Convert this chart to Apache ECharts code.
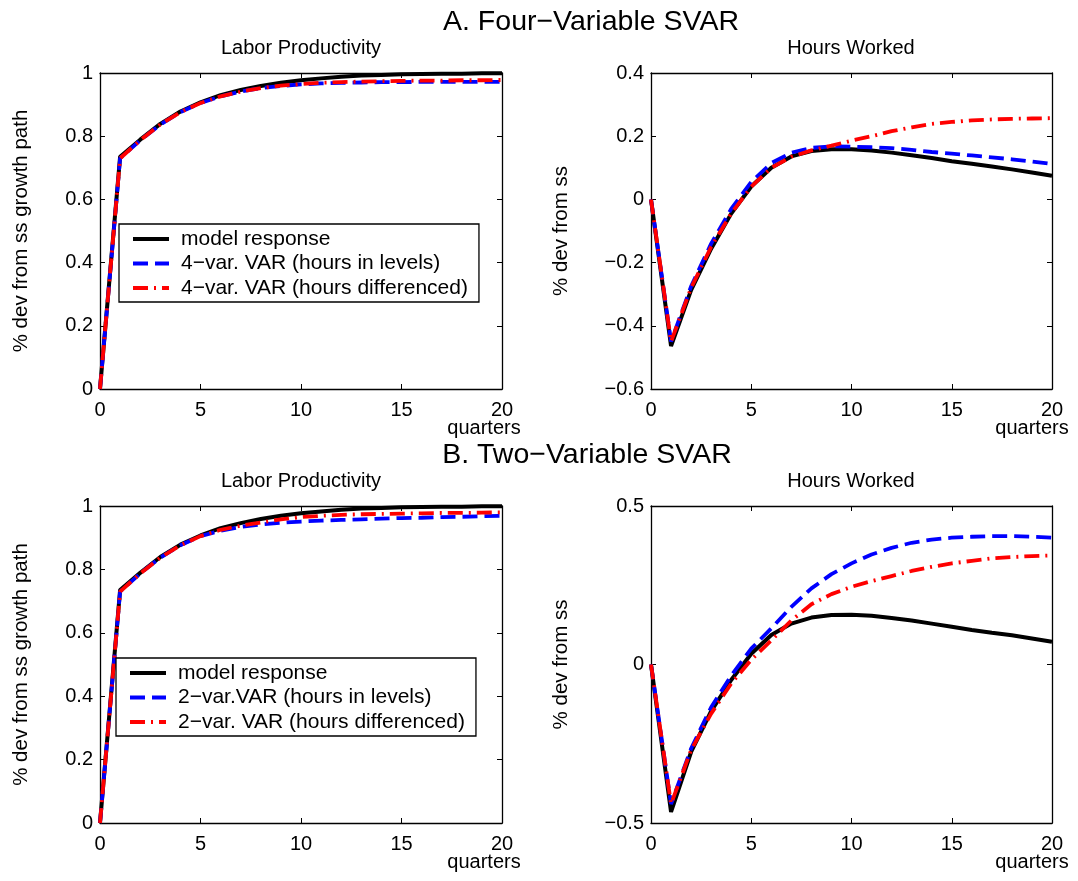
<!DOCTYPE html>
<html>
<head>
<meta charset="utf-8">
<script src="https://cdn.jsdelivr.net/npm/echarts@6/dist/echarts.min.js"></script>
<style>
html,body{margin:0;padding:0;background:#fff;}
#chart{width:1078px;height:881px;}
</style>
</head>
<body>
<div id="chart"></div>
<script>
// ---- Data ----
const quarters = [0,1,2,3,4,5,6,7,8,9,10,11,12,13,14,15,16,17,18,19,20];

const panelTitles = ['Labor Productivity','Hours Worked','Labor Productivity','Hours Worked'];
const sectionTitles = ['A. Four\u2212Variable SVAR','B. Two\u2212Variable SVAR'];
const yAxisNames = ['% dev from ss growth path','% dev from ss','% dev from ss growth path','% dev from ss'];
const xAxisName = 'quarters';
const namesA = ['model response','4\u2212var. VAR (hours in levels)','4\u2212var. VAR (hours differenced)'];
const namesB = ['model response ','2\u2212var.VAR (hours in levels)','2\u2212var. VAR (hours differenced)'];

// Panel A, Labor Productivity
const aLpModel = [0,0.735,0.789,0.839,0.878,0.907,0.930,0.946,0.959,0.969,0.977,0.983,0.988,0.992,0.994,0.996,0.997,0.998,0.998,0.999,0.999];
const aLpLevels = [0,0.730,0.787,0.837,0.876,0.905,0.926,0.941,0.952,0.959,0.964,0.967,0.969,0.970,0.971,0.971,0.972,0.972,0.972,0.972,0.972];
const aLpDiff = [0,0.730,0.787,0.837,0.876,0.905,0.926,0.941,0.952,0.960,0.965,0.969,0.971,0.973,0.974,0.975,0.976,0.976,0.977,0.977,0.978];

// Panel A, Hours Worked
const aHwModel = [0,-0.464,-0.287,-0.156,-0.045,0.041,0.100,0.136,0.153,0.159,0.159,0.155,0.148,0.140,0.131,0.121,0.113,0.104,0.095,0.085,0.075];
const aHwLevels = [0,-0.450,-0.275,-0.140,-0.030,0.055,0.115,0.148,0.163,0.168,0.167,0.165,0.162,0.157,0.150,0.145,0.139,0.133,0.127,0.120,0.112];
const aHwDiff = [0,-0.450,-0.280,-0.150,-0.045,0.040,0.100,0.135,0.155,0.170,0.186,0.200,0.216,0.228,0.239,0.245,0.250,0.253,0.255,0.256,0.257];

// Panel B, Labor Productivity
const bLpModel = [0,0.735,0.789,0.839,0.878,0.907,0.930,0.946,0.959,0.969,0.977,0.983,0.988,0.992,0.994,0.996,0.997,0.998,0.998,0.999,0.999];
const bLpLevels = [0,0.730,0.787,0.837,0.876,0.905,0.922,0.934,0.942,0.947,0.951,0.954,0.956,0.958,0.960,0.962,0.963,0.965,0.966,0.968,0.969];
const bLpDiff = [0,0.730,0.787,0.837,0.876,0.905,0.925,0.938,0.948,0.958,0.965,0.969,0.972,0.974,0.975,0.976,0.977,0.978,0.978,0.979,0.980];

// Panel B, Hours Worked
const bHwModel = [0,-0.465,-0.276,-0.147,-0.049,0.034,0.093,0.129,0.148,0.156,0.157,0.154,0.147,0.139,0.129,0.119,0.109,0.100,0.092,0.082,0.072];
const bHwLevels = [0,-0.440,-0.265,-0.135,-0.035,0.050,0.114,0.182,0.240,0.285,0.319,0.347,0.368,0.384,0.394,0.400,0.403,0.405,0.405,0.403,0.400];
const bHwDiff = [0,-0.440,-0.270,-0.155,-0.060,0.015,0.076,0.139,0.190,0.222,0.245,0.263,0.279,0.295,0.308,0.319,0.327,0.335,0.339,0.342,0.344];

const yMins = [0,-0.6,0,-0.5];
const yMaxs = [1,0.4,1,0.5];
const yIntervals = [0.2,0.2,0.2,0.5];
const xMin = 0, xMax = 20, xInterval = 5;

// ---- Build chart ----
const FONT = '"Liberation Sans", Arial, Helvetica, sans-serif';
const panels = [
  [aLpModel,aLpLevels,aLpDiff],
  [aHwModel,aHwLevels,aHwDiff],
  [bLpModel,bLpLevels,bLpDiff],
  [bHwModel,bHwLevels,bHwDiff]
];
const panelNames = [namesA,namesA,namesB,namesB];

const grids = [
  {left:100, top:73, width:402, height:316},
  {left:651, top:73, width:401, height:316},
  {left:100, top:506, width:402, height:317},
  {left:651, top:506, width:401, height:317}
];
const nameGaps = [68,79,68,79];

const fmt = v => {
  let s = (Math.round(v*10)/10).toString();
  return s.replace('-', '\u2212');
};

const xAxes = [], yAxes = [], series = [];
const lineStyles = [
  {color:'#000000', width:4, type:'solid'},
  {color:'#0000ff', width:3.8, type:[15,7]},
  {color:'#ff0000', width:3.8, type:[15,6,2,6]}
];

grids.forEach((g,i) => {
  const common = {
    gridIndex:i, type:'value', min:xMin, max:xMax, interval:xInterval,
    axisLine:{show:true, onZero:false, lineStyle:{color:'#000', width:1.3}},
    axisTick:{show:true, inside:true, length:5, lineStyle:{color:'#000', width:1}},
    splitLine:{show:false}
  };
  xAxes.push(Object.assign({}, common, {
    position:'bottom',
    axisLabel:{show:true, color:'#000', fontSize:20, fontFamily:FONT, margin:11, formatter:fmt}
  }));
  xAxes.push(Object.assign({}, common, {position:'top', axisLabel:{show:false}}));
  const ycommon = {
    gridIndex:i, type:'value', min:yMins[i], max:yMaxs[i], interval:yIntervals[i],
    axisLine:{show:true, onZero:false, lineStyle:{color:'#000', width:1.3}},
    axisTick:{show:true, inside:true, length:5, lineStyle:{color:'#000', width:1}},
    splitLine:{show:false}
  };
  yAxes.push(Object.assign({}, ycommon, {
    position:'left',
    name: yAxisNames[i], nameLocation:'middle', nameRotate:90, nameGap:nameGaps[i],
    nameTextStyle:{color:'#000', fontSize:20.5, fontFamily:FONT},
    axisLabel:{show:true, color:'#000', fontSize:20, fontFamily:FONT, margin:7, formatter:fmt}
  }));
  yAxes.push(Object.assign({}, ycommon, {position:'right', axisLabel:{show:false}}));

  panels[i].forEach((vals,k) => {
    series.push({
      name: panelNames[i][k],
      type:'line',
      xAxisIndex: 2*i, yAxisIndex: 2*i,
      data: quarters.map((q,j) => [q, vals[j]]),
      showSymbol:false, symbol:'none',
      lineStyle: lineStyles[k],
      itemStyle:{color: lineStyles[k].color},
      emphasis:{disabled:true},
      animation:false
    });
  });
});

const txt = (x,y,text,size) => ({
  type:'text', x:x, y:y,
  style:{text:text, fill:'#000', font: size + 'px ' + FONT, textAlign:'center', textVerticalAlign:'middle'}
});

const graphics = [
  txt(591, 22, sectionTitles[0], 28.5),
  txt(587, 455, sectionTitles[1], 28.5),
  txt(301, 48.5, panelTitles[0], 20),
  txt(851, 48.5, panelTitles[1], 20),
  txt(301, 481.5, panelTitles[2], 20),
  txt(851, 481.5, panelTitles[3], 20),
  txt(484, 428, xAxisName, 20),
  txt(1032, 428, xAxisName, 20),
  txt(484, 862, xAxisName, 20),
  txt(1032, 862, xAxisName, 20)
];

const legendCommon = {
  orient:'vertical', itemWidth:36, itemHeight:14, itemGap:2.5,
  borderColor:'#000', borderWidth:1.3, backgroundColor:'#fff', borderRadius:0,
  itemStyle:{opacity:0},
  lineStyle:{width:4},
  textStyle:{color:'#000', fontSize:21, fontFamily:FONT, lineHeight:22, padding:[0,0,0,7]},
  selectedMode:false
};

const chart = echarts.init(document.getElementById('chart'), null, {renderer:'canvas'});
chart.setOption({
  animation:false,
  backgroundColor:'#fff',
  grid: grids.map(g => Object.assign({containLabel:false, show:false}, g)),
  xAxis: xAxes,
  yAxis: yAxes,
  legend: [
    Object.assign({}, legendCommon, {left:119, top:224, padding:[4,11,3,12], data:namesA}),
    Object.assign({}, legendCommon, {left:116, top:658, padding:[4,11,3,12], data:namesB})
  ],
  graphic: graphics,
  series: series
});
</script>
</body>
</html>
